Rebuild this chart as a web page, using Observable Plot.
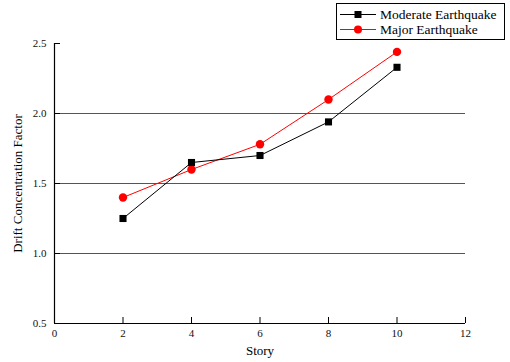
<!DOCTYPE html>
<html>
<head>
<meta charset="utf-8">
<script src="https://cdn.jsdelivr.net/npm/d3@7"></script>
<script src="https://cdn.jsdelivr.net/npm/@observablehq/plot@0.6"></script>
<style>
  body { margin: 0; background: #fff; }
  #wrap { position: relative; width: 510px; height: 362px; font-family: "Liberation Serif", "Times New Roman", serif; }
  #wrap svg text { font-family: "Liberation Serif", "Times New Roman", serif; }
  #legend { position: absolute; left: 336px; top: 3px; width: 167px; height: 35px; border: 1px solid #000; background: #fff; font-size: 13.5px; }
  #legend .row { position: absolute; left: 0; height: 15px; display: flex; align-items: center; }
  #legend svg { display: block; }
  #legend span { margin-left: 3px; line-height: 15px; white-space: nowrap; }
</style>
</head>
<body>
<div id="wrap"></div>
<script>
const stories = [2, 4, 6, 8, 10];
const moderate = [1.25, 1.65, 1.70, 1.94, 2.33];
const major = [1.40, 1.60, 1.78, 2.10, 2.44];
const seriesNames = ["Moderate Earthquake", "Major Earthquake"];
const seriesColors = ["#000000", "#ff0000"];
const xTicks = [0, 2, 4, 6, 8, 10, 12];
const yTicks = [0.5, 1.0, 1.5, 2.0, 2.5];
const gridValues = [1.0, 1.5, 2.0];

const modData = stories.map((s, i) => ({story: s, value: moderate[i]}));
const majData = stories.map((s, i) => ({story: s, value: major[i]}));

const font = '"Liberation Serif", "Times New Roman", serif';

const chart = Plot.plot({
  width: 510,
  height: 362,
  marginLeft: 54,
  marginRight: 45,
  marginTop: 43,
  marginBottom: 39,
  style: {fontFamily: font, fontSize: "11px", color: "#000", background: "#fff"},
  x: {domain: [0, 12]},
  y: {domain: [0.5, 2.5]},
  marks: [
    Plot.ruleY(gridValues, {stroke: "#555", strokeWidth: 1}),
    Plot.axisX({ticks: xTicks, tickSize: -6, tickPadding: 12, tickFormat: d3.format("d"), label: null, fontSize: 11, fontFamily: font, fill: "#111"}),
    Plot.axisY({ticks: yTicks, tickSize: -6, tickPadding: 14, tickFormat: d3.format(".1f"), label: null, fontSize: 11, fontFamily: font, fill: "#111"}),
    Plot.ruleX([0], {stroke: "#000", strokeWidth: 1.2}),
    Plot.ruleY([0.5], {stroke: "#000", strokeWidth: 1.2}),
    Plot.line(majData, {x: "story", y: "value", stroke: seriesColors[1], strokeWidth: 1}),
    Plot.line(modData, {x: "story", y: "value", stroke: seriesColors[0], strokeWidth: 1}),
    Plot.dot(majData, {x: "story", y: "value", fill: seriesColors[1], r: 4.2, symbol: "circle"}),
    Plot.dot(modData, {x: "story", y: "value", fill: seriesColors[0], r: 4, symbol: "square"}),
    Plot.text(["Story"], {frameAnchor: "bottom", dy: 31, fontSize: 13, fontFamily: font, fill: "#000"}),
    Plot.text(["Drift Concentration Factor"], {frameAnchor: "left", textAnchor: "middle", dx: -37, rotate: -90, fontSize: 13, fontFamily: font, fill: "#000"})
  ]
});

const wrap = document.getElementById("wrap");
wrap.appendChild(chart);

// Legend
const legend = document.createElement("div");
legend.id = "legend";
const symbols = ["square", "circle"];
seriesNames.forEach((name, i) => {
  const row = document.createElement("div");
  row.className = "row";
  row.style.top = (i === 0 ? 3 : 18) + "px";
  const ns = "http://www.w3.org/2000/svg";
  const svg = document.createElementNS(ns, "svg");
  svg.setAttribute("width", 40);
  svg.setAttribute("height", 15);
  const line = document.createElementNS(ns, "line");
  line.setAttribute("x1", 3); line.setAttribute("x2", 39);
  line.setAttribute("y1", 7.5); line.setAttribute("y2", 7.5);
  line.setAttribute("stroke", seriesColors[i]);
  svg.appendChild(line);
  let sym;
  if (symbols[i] === "square") {
    sym = document.createElementNS(ns, "rect");
    sym.setAttribute("x", 17.5); sym.setAttribute("y", 4);
    sym.setAttribute("width", 7); sym.setAttribute("height", 7);
  } else {
    sym = document.createElementNS(ns, "circle");
    sym.setAttribute("cx", 21); sym.setAttribute("cy", 7.5); sym.setAttribute("r", 4);
  }
  sym.setAttribute("fill", seriesColors[i]);
  svg.appendChild(sym);
  row.appendChild(svg);
  const span = document.createElement("span");
  span.textContent = name;
  row.appendChild(span);
  legend.appendChild(row);
});
wrap.appendChild(legend);
</script>
</body>
</html>
